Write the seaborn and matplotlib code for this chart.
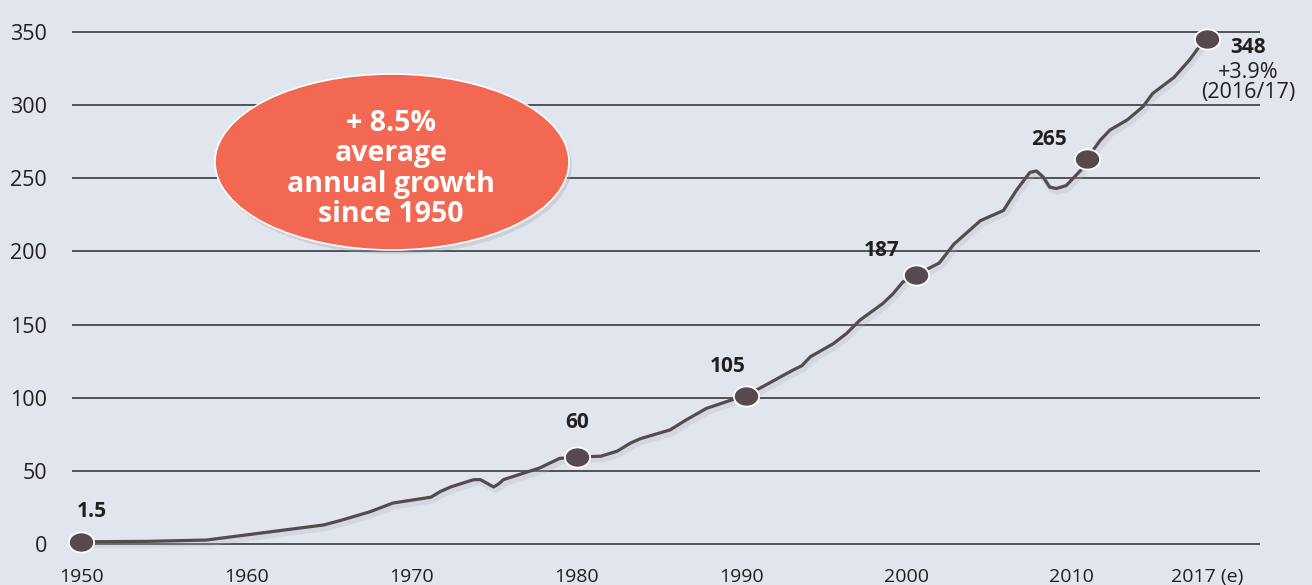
import numpy as np
import matplotlib
matplotlib.use("Agg")
import matplotlib.pyplot as plt
import matplotlib.patheffects as pe
from matplotlib.patches import Ellipse
from matplotlib.path import Path
from matplotlib.transforms import Affine2D
import seaborn as sns
import pandas as pd

# ---------------- data ----------------
years = [1950.0, 1954.0, 1957.6, 1964.7, 1965.7, 1966.9, 1967.5, 1968.9, 1971.2, 1971.8,
         1972.4, 1973.8, 1974.2, 1974.6, 1975.0, 1975.3, 1975.6, 1977.8, 1979.0, 1980.0,
         1981.5, 1982.5, 1983.3, 1983.9, 1985.7, 1986.7, 1987.9, 1989.3, 1990.3, 1991.3,
         1993.0, 1993.7, 1994.2, 1995.6, 1996.4, 1997.2, 1998.6, 1999.2, 1999.8, 2000.6,
         2002.0, 2002.9, 2004.5, 2005.1, 2005.9, 2006.7, 2007.5, 2007.9, 2008.3, 2008.7,
         2009.1, 2009.7, 2010.5, 2010.8, 2011.5, 2012.0, 2012.9, 2013.7, 2014.2, 2015.3,
         2016.1, 2016.6, 2017.0]
values = [1.5, 1.8, 2.7, 13, 16, 20, 22, 28, 32, 36,
          39, 44, 44, 41.5, 39, 41, 44, 52, 58.5, 59.5,
          60, 63.5, 69, 72, 78, 85, 92.7, 98, 101.5, 107.5,
          118, 122, 128, 137, 144, 153, 164.5, 171, 179, 184,
          192, 205, 221, 224, 228, 242, 254, 255, 251, 244,
          243, 245, 255.5, 263, 276, 283, 290, 299, 308, 319,
          331, 340, 345]

marker_years = [1950.0, 1980.06, 1990.3, 2000.6, 2010.8, 2017.0]
marker_values = [1.5, 59.4, 101.5, 184, 263, 345]
marker_labels = ["1.5", "60", "105", "187", "265", "348"]

x_ticks = [1950, 1960, 1970, 1980, 1990, 2000, 2010, 2017]
x_tick_labels = ["1950", "1960", "1970", "1980", "1990", "2000", "2010", "2017 (e)"]
y_ticks = [0, 50, 100, 150, 200, 250, 300, 350]

bubble_lines = "+ 8.5%\naverage\nannual growth\nsince 1950"
last_note = "+3.9%\n(2016/17)"

# ---------------- style ----------------
BG = "#e0e5ee"
LINE = "#574a4f"
GRID = "#2b2b2b"
ORANGE = "#f26852"
TXT = "#231f20"

sns.set_theme(style="white")
plt.rcParams["font.family"] = ["Open Sans", "DejaVu Sans"]

fig = plt.figure(figsize=(13.12, 5.85), dpi=100, facecolor=BG)
W, H = 1312, 585
# axes spanning px 72..1260 horizontally, y from -5 (551.3px) to 355 (24.7px)
ax = fig.add_axes([72 / W, (H - 551.3) / H, (1260 - 72) / W, (551.3 - 24.7) / H])
ax.set_facecolor(BG)

# piecewise x scale: last segment (2010 -> 2017) is stretched in the original
K = 136.0 / (7 * 16.5)


def fwd(x):
    x = np.asarray(x, dtype=float)
    return np.where(x <= 2010, x, 2010 + (x - 2010) * K)


def inv(x):
    x = np.asarray(x, dtype=float)
    return np.where(x <= 2010, x, 2010 + (x - 2010) / K)


ax.set_xscale("function", functions=(fwd, inv))
ax.set_xlim(1949.45, 2010 + 11.45 / K)
ax.set_ylim(-5, 355)

for yv in y_ticks:
    ax.axhline(yv, color=GRID, lw=1.1, zorder=1)

df = pd.DataFrame({"year": years, "value": values})
sns.lineplot(data=df, x="year", y="value", ax=ax, color=LINE, lw=2.3, zorder=3,
             path_effects=[pe.SimpleLineShadow(offset=(1.5, -2.5), shadow_color="#aab3c2", alpha=0.25, linewidth=4),
                           pe.Normal()])

# oval marker
ell = Path.unit_circle().transformed(Affine2D().scale(1.0, 0.8))
mdf = pd.DataFrame({"year": marker_years, "value": marker_values})
sns.scatterplot(data=mdf, x="year", y="value", ax=ax, marker=ell, s=330, color="#564950",
                edgecolor="white", linewidth=1.3, zorder=4, clip_on=False)

offsets = [(11, 30), (0, 35), (-18, 29), (-34, 24), (-38, 20), (41, -8)]
for xv, yv, lab, off in zip(marker_years, marker_values, marker_labels, offsets):
    ax.annotate(lab, (xv, yv), xytext=off, textcoords="offset pixels", ha="center", va="center",
                fontsize=15, fontweight="bold", color=TXT, zorder=5, annotation_clip=False)
ax.annotate(last_note, (marker_years[-1], marker_values[-1]), xytext=(41, -43),
            textcoords="offset pixels", ha="center", va="center", fontsize=15.5,
            color=TXT, linespacing=0.95, zorder=5, annotation_clip=False)

ax.set_xticks(x_ticks)
ax.set_xticklabels(x_tick_labels)
ax.set_yticks(y_ticks)
ax.tick_params(axis="both", length=0, labelcolor=TXT)
ax.tick_params(axis="y", pad=18, labelsize=15.5)
ax.tick_params(axis="x", pad=12, labelsize=14)
ax.set_xlabel("")
ax.set_ylabel("")
for s in ax.spines.values():
    s.set_visible(False)

# growth bubble
bubble = Ellipse((392 / W, 1 - 162 / H), 354 / W, 176 / H, transform=fig.transFigure,
                 facecolor=ORANGE, edgecolor="white", lw=1.2, zorder=2,
                 path_effects=[pe.SimplePatchShadow(offset=(2, -3), shadow_rgbFace="#9aa3b3", alpha=0.3),
                               pe.Normal()])
fig.add_artist(bubble)
fig.text(391 / W, 1 - 169 / H, bubble_lines, ha="center", va="center", color="white",
         fontsize=20.5, fontweight="bold", linespacing=1.05, zorder=3)

fig.savefig("out.png", dpi=100, facecolor=BG)
